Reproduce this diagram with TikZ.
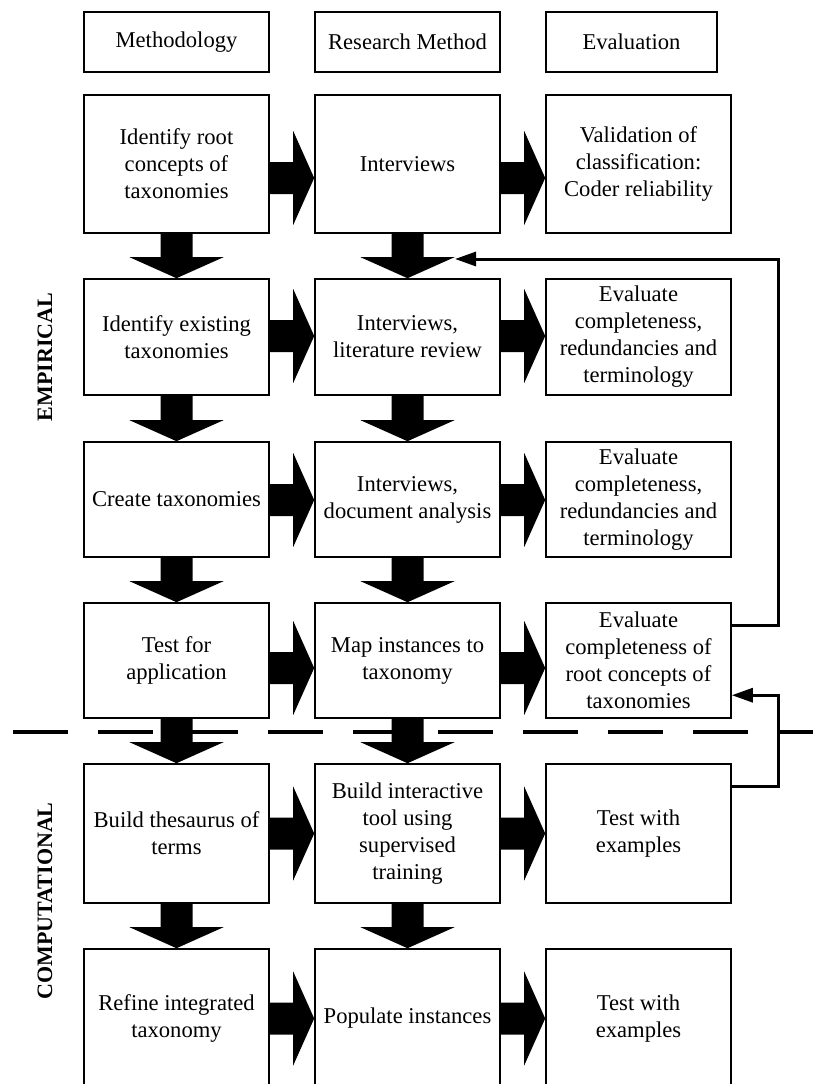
\documentclass[tikz,border=0pt]{standalone}
\usepackage{fontspec}
\setmainfont{Liberation Serif}
\usetikzlibrary{calc,arrows.meta}
\begin{document}
\begin{tikzpicture}[x=1pt,y=-1pt,
  box/.style={draw, line width=1.6pt, rectangle, inner sep=0pt, align=center,
    font=\fontsize{22.6}{27}\selectfont, minimum width=185pt},
  lab/.style={rotate=90, inner sep=0pt, font=\fontsize{22}{26}\selectfont\bfseries},
  fb/.style={line width=3pt, -{Triangle[length=21pt,width=14pt]}},
  dline/.style={line width=3.5pt, dash pattern=on 55pt off 30pt},
  fatR/.style={to path={let \p1=(\tikztostart),\p2=(\tikztotarget) in
    (\x1,\y1+16pt) -- (\x2-21pt,\y1+16pt) -- (\x2-21pt,\y1+47pt) -- (\x2,\y1)
    -- (\x2-21pt,\y1-47pt) -- (\x2-21pt,\y1-16pt) -- (\x1,\y1-16pt) -- cycle}},
  fatD/.style={to path={let \p1=(\tikztostart),\p2=(\tikztotarget) in
    (\x1-16pt,\y1) -- (\x1-16pt,\y2+21pt) -- (\x1-47pt,\y2+21pt) -- (\x1,\y2)
    -- (\x1+47pt,\y2+21pt) -- (\x1+16pt,\y2+21pt) -- (\x1+16pt,\y1) -- cycle}}
]
\useasboundingbox (0,0) rectangle (813,1084);
\fill[white] (0,0) rectangle (813,1084);

% dashed separator
\coordinate (dL) at (13,732);
\coordinate (dR) at (830,732);
\draw[dline] (dL) -- (dR);

% headers
\node[box, minimum height=60pt] (hm) at (176.5,42) {Methodology};
\node[box, minimum height=60pt] (hr) at (407.5,42) {Research Method};
\node[box, minimum height=60pt, minimum width=171pt] (he) at (631.5,42) {Evaluation};

% row 1
\node[box, minimum height=138pt] (r1l) at (176.5,164) {Identify root\\concepts of\\taxonomies};
\node[box, minimum height=138pt] (r1m) at (407.5,164) {Interviews};
\node[box, minimum height=138pt] (r1r) at (638.5,164) {Validation of\\classification:\\Coder reliability};
% row 2
\node[box, minimum height=116pt] (r2l) at (176.5,337) {Identify existing\\taxonomies};
\node[box, minimum height=116pt] (r2m) at (407.5,337) {Interviews,\\literature review};
\node[box, minimum height=116pt] (r2r) at (638.5,337) {Evaluate\\completeness,\\redundancies and\\terminology};
% row 3
\node[box, minimum height=115pt] (r3l) at (176.5,499.5) {Create taxonomies};
\node[box, minimum height=115pt] (r3m) at (407.5,499.5) {Interviews,\\document analysis};
\node[box, minimum height=115pt] (r3r) at (638.5,499.5) {Evaluate\\completeness,\\redundancies and\\terminology};
% row 4
\node[box, minimum height=115pt] (r4l) at (176.5,660.5) {Test for\\application};
\node[box, minimum height=115pt] (r4m) at (407.5,660.5) {Map instances to\\taxonomy};
\node[box, minimum height=115pt] (r4r) at (638.5,660.5) {Evaluate\\completeness of\\root concepts of\\taxonomies};
% row 5
\node[box, minimum height=139pt] (r5l) at (176.5,833.5) {Build thesaurus of\\terms};
\node[box, minimum height=139pt] (r5m) at (407.5,833.5) {Build interactive\\tool using\\supervised\\training};
\node[box, minimum height=139pt] (r5r) at (638.5,833.5) {Test with\\examples};
% row 6
\node[box, minimum height=139pt] (r6l) at (176.5,1018.5) {Refine integrated\\taxonomy};
\node[box, minimum height=139pt] (r6m) at (407.5,1018.5) {Populate instances};
\node[box, minimum height=139pt] (r6r) at (638.5,1018.5) {Test with\\examples};

% side labels
\node[lab] (emp) at (45,357) {EMPIRICAL};
\node[lab] (comp) at (45,901) {COMPUTATIONAL};

% horizontal fat arrows
\fill ($(r1l.east)+(0,14)$) to[fatR] ($(r1m.west)+(0,14)$);
\fill ($(r1m.east)+(0,14)$) to[fatR] ($(r1r.west)+(0,14)$);
\fill ($(r2l.east)+(0,-1)$) to[fatR] ($(r2m.west)+(0,-1)$);
\fill ($(r2m.east)+(0,-1)$) to[fatR] ($(r2r.west)+(0,-1)$);
\fill ($(r3l.east)+(0,0.5)$) to[fatR] ($(r3m.west)+(0,0.5)$);
\fill ($(r3m.east)+(0,0.5)$) to[fatR] ($(r3r.west)+(0,0.5)$);
\fill ($(r4l.east)+(0,7.5)$) to[fatR] ($(r4m.west)+(0,7.5)$);
\fill ($(r4m.east)+(0,7.5)$) to[fatR] ($(r4r.west)+(0,7.5)$);
\fill (r5l.east) to[fatR] (r5m.west);
\fill (r5m.east) to[fatR] (r5r.west);
\fill (r6l.east) to[fatR] (r6m.west);
\fill (r6m.east) to[fatR] (r6r.west);

% vertical fat arrows
\fill (r1l.south) to[fatD] (r2l.north);
\fill (r1m.south) to[fatD] (r2m.north);
\fill (r2l.south) to[fatD] (r3l.north);
\fill (r2m.south) to[fatD] (r3m.north);
\fill (r3l.south) to[fatD] (r4l.north);
\fill (r3m.south) to[fatD] (r4m.north);
\fill (r4l.south) to[fatD] (r5l.north);
\fill (r4m.south) to[fatD] (r5m.north);
\fill (r5l.south) to[fatD] (r6l.north);
\fill (r5m.south) to[fatD] (r6m.north);

% feedback connectors
\coordinate (fbA) at (455,259);
\draw[fb] ($(r4r.north east)+(0,23)$) -- ++(47,0) |- (fbA);
\draw[fb] ($(r5r.north east)+(0,23)$) -- ++(47,0) |- ($(r4r.north east)+(0,93)$);
\end{tikzpicture}
\end{document}
